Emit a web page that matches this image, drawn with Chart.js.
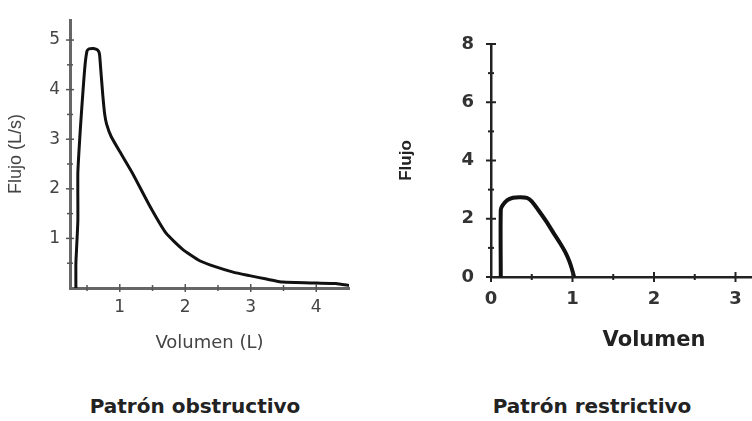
<!DOCTYPE html>
<html lang="es">
<head>
  <meta charset="UTF-8" />
  <title>Patrón obstructivo / restrictivo</title>
  <script src="https://cdn.jsdelivr.net/npm/chart.js"></script>
  <style>
    html, body { margin: 0; padding: 0; background: #fff; overflow: hidden; }
    #page { position: relative; width: 752px; height: 421px; overflow: hidden; }
    .box { position: absolute; top: 0; }
    #leftBox { left: 0; width: 376px; height: 358px; }
    #rightBox { left: 376px; width: 460px; height: 357px; }
    .caption { position: absolute; top: 394px; font-family: "DejaVu Sans", sans-serif; font-weight: bold; font-size: 20px; line-height: 24px; color: #222; transform: translateX(-50%); white-space: nowrap; }
  </style>
</head>
<body>
  <div id="page">
    <div class="box" id="leftBox"><canvas id="obsChart"></canvas></div>
    <div class="box" id="rightBox"><canvas id="resChart"></canvas></div>
    <div class="caption" style="left:195px">Patrón obstructivo</div>
    <div class="caption" style="left:592px">Patrón restrictivo</div>
  </div>
  <script>
    // curva obstructiva (volumen L, flujo L/s)
    const obsVolume = [0.33, 0.33, 0.36, 0.36, 0.40, 0.44, 0.47, 0.50, 0.53, 0.60, 0.66, 0.69, 0.71, 0.74, 0.77, 0.80, 0.87, 1.00, 1.20, 1.46, 1.71, 1.96, 2.22, 2.48, 2.73, 2.98, 3.24, 3.49, 4.00, 4.30, 4.50];
    const obsFlow   = [0.00, 0.50, 1.35, 2.33, 3.25, 4.00, 4.50, 4.78, 4.82, 4.83, 4.80, 4.72, 4.40, 3.90, 3.50, 3.30, 3.05, 2.75, 2.30, 1.65, 1.10, 0.78, 0.55, 0.42, 0.32, 0.25, 0.18, 0.12, 0.10, 0.09, 0.05];

    // curva restrictiva
    const resVolume = [0.12, 0.12, 0.14, 0.20, 0.27, 0.35, 0.44, 0.50, 0.58, 0.68, 0.77, 0.85, 0.91, 0.96, 0.99, 1.02];
    const resFlow   = [0.00, 2.30, 2.45, 2.64, 2.72, 2.74, 2.72, 2.60, 2.30, 1.90, 1.50, 1.15, 0.86, 0.55, 0.30, 0.00];

    const obsXTicks = [0.5, 1, 1.5, 2, 2.5, 3, 3.5, 4];
    const obsYTicks = [0.5, 1, 1.5, 2, 2.5, 3, 3.5, 4, 4.5, 5];
    const resXTicks = [0, 0.5, 1, 1.5, 2, 2.5, 3, 3.5, 4];
    const resYTicks = [0, 1, 2, 3, 4, 5, 6, 7, 8];

    const toPoints = (xs, ys) => xs.map((x, i) => ({ x: x, y: ys[i] }));

    // small tick marks drawn across the axis line
    const crossTicks = {
      id: 'crossTicks',
      afterDraw(chart, args, opts) {
        const ctx = chart.ctx;
        const area = chart.chartArea;
        ctx.save();
        ctx.strokeStyle = opts.color;
        ctx.lineWidth = opts.width;
        const xs = chart.scales.x, ys = chart.scales.y;
        xs.ticks.forEach(t => {
          const len = t.label !== '' ? opts.major : opts.minor;
          const px = xs.getPixelForValue(t.value);
          ctx.beginPath();
          ctx.moveTo(px, area.bottom - len);
          ctx.lineTo(px, area.bottom + len);
          ctx.stroke();
        });
        ys.ticks.forEach(t => {
          const len = t.label !== '' ? opts.major : opts.minor;
          const py = ys.getPixelForValue(t.value);
          ctx.beginPath();
          ctx.moveTo(area.left - len, py);
          ctx.lineTo(area.left + len, py);
          ctx.stroke();
        });
        ctx.restore();
      }
    };

    new Chart(document.getElementById('obsChart'), {
      type: 'scatter',
      data: {
        datasets: [{
          data: toPoints(obsVolume, obsFlow),
          showLine: true,
          borderColor: '#111',
          borderWidth: 3,
          pointRadius: 0,
          tension: 0.15
        }]
      },
      options: {
        responsive: true,
        maintainAspectRatio: false,
        animation: false,
        layout: { padding: { left: 1, top: 12, right: 27, bottom: 0 } },
        plugins: {
          legend: { display: false },
          tooltip: { enabled: false },
          crossTicks: { color: '#555', width: 1.5, major: 4, minor: 3 }
        },
        scales: {
          x: {
            type: 'linear', min: 0.24, max: 4.5,
            afterBuildTicks: s => { s.ticks = obsXTicks.map(v => ({ value: v })); },
            afterFit: s => { s.height = 70; },
            grid: { display: true, drawOnChartArea: false, drawTicks: false },
            border: { display: true, color: '#666', width: 3 },
            ticks: { padding: 9, color: '#444', font: { family: 'DejaVu Sans', size: 17 }, maxRotation: 0,
                     callback: v => Number.isInteger(v) ? v : '' },
            title: { display: true, text: 'Volumen (L)', color: '#444', font: { family: 'DejaVu Sans', size: 18 } }
          },
          y: {
            type: 'linear', min: 0, max: 5.4,
            afterBuildTicks: s => { s.ticks = obsYTicks.map(v => ({ value: v })); },
            afterFit: s => { s.width = 69; },
            grid: { display: true, drawOnChartArea: false, drawTicks: false },
            border: { display: true, color: '#666', width: 3 },
            ticks: { padding: 10, color: '#444', font: { family: 'DejaVu Sans', size: 17 },
                     callback: v => Number.isInteger(v) ? v : '' },
            title: { display: true, text: 'Flujo (L/s)', color: '#444', font: { family: 'Arial', size: 18 } }
          }
        }
      },
      plugins: [crossTicks]
    });

    new Chart(document.getElementById('resChart'), {
      type: 'scatter',
      data: {
        datasets: [{
          data: toPoints(resVolume, resFlow),
          showLine: true,
          borderColor: '#111',
          borderWidth: 4,
          pointRadius: 0,
          tension: 0.3
        }]
      },
      options: {
        responsive: true,
        maintainAspectRatio: false,
        animation: false,
        layout: { padding: { left: 16, top: 44, right: 19, bottom: 0 } },
        plugins: {
          legend: { display: false },
          tooltip: { enabled: false },
          crossTicks: { color: '#222', width: 2, major: 5, minor: 3 }
        },
        scales: {
          x: {
            type: 'linear', min: 0, max: 4,
            afterBuildTicks: s => { s.ticks = resXTicks.map(v => ({ value: v })); },
            afterFit: s => { s.height = 80; },
            grid: { display: true, drawOnChartArea: false, drawTicks: false },
            border: { display: true, color: '#222', width: 2.5 },
            ticks: { padding: 12, color: '#333', font: { family: 'DejaVu Sans', size: 18, weight: 'bold' }, maxRotation: 0,
                     callback: v => Number.isInteger(v) ? v : '' },
            title: { display: true, text: 'Volumen', color: '#222', font: { family: 'DejaVu Sans', size: 21, weight: 'bold' } }
          },
          y: {
            type: 'linear', min: 0, max: 8,
            afterBuildTicks: s => { s.ticks = resYTicks.map(v => ({ value: v })); },
            afterFit: s => { s.width = 99; },
            grid: { display: true, drawOnChartArea: false, drawTicks: false },
            border: { display: true, color: '#222', width: 2.5 },
            ticks: { padding: 17, color: '#333', font: { family: 'DejaVu Sans', size: 18, weight: 'bold' },
                     callback: v => v % 2 === 0 ? v : '' },
            title: { display: true, text: 'Flujo', color: '#222', font: { family: 'Arial', size: 17, weight: 'bold' } }
          }
        }
      },
      plugins: [crossTicks]
    });
  </script>
</body>
</html>
